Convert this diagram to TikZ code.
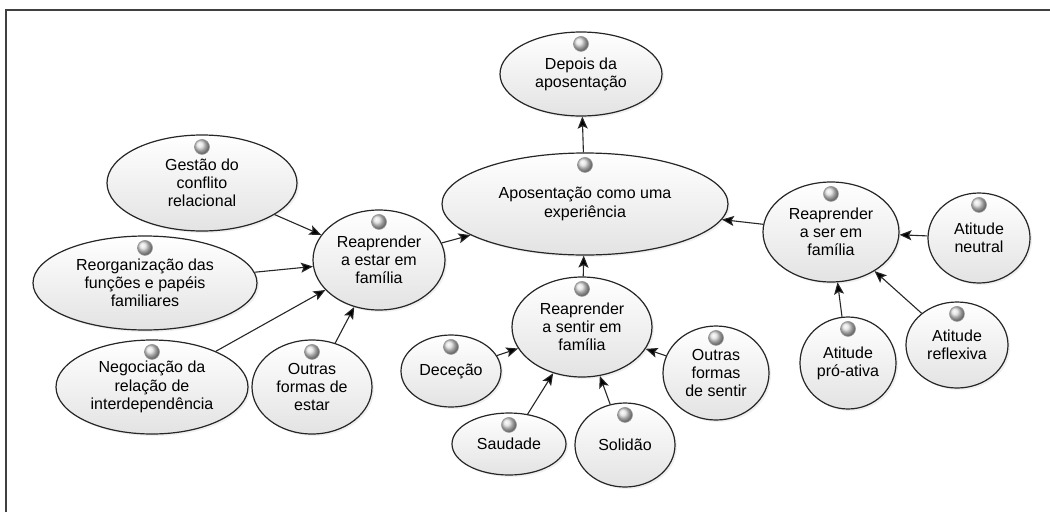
\documentclass[tikz,border=0pt]{standalone}
\usepackage{fontspec}
\setmainfont{Liberation Sans}
\usepackage{tikz}
\usetikzlibrary{arrows.meta,shapes,shadows,positioning}

\begin{document}
\begin{tikzpicture}[x=1pt,y=-1pt,>={Stealth[length=12pt,width=10pt,inset=2.5pt]},
    goal/.style={ellipse,draw=black!85,line width=1.2pt,inner sep=0pt,align=center,
        top color=white,bottom color=gray!22,
        drop shadow={opacity=0.12,shadow xshift=2pt,shadow yshift=-2pt},
        font=\fontsize{16}{18.2}\selectfont},
    link/.style={->,line width=1.1pt,draw=black!85}]
        \useasboundingbox (0,0) rectangle (1050,512);
        \draw[line width=2pt,black!75] (6,512) -- (6,10) -- (1050,10);
        % centre
        \node[goal,minimum width=162,minimum height=84] (depois) at (581,74) {Depois da\\aposentação};
        \node[goal,minimum width=286,minimum height=102] (aposent) at (585,204) {Aposentação como uma\\experiência};
        % estar
        \node[goal,minimum width=132,minimum height=100] (estar) at (379,260) {Reaprender\\a estar em\\família};
        \node[goal,minimum width=190,minimum height=96] (gestao) at (202,183) {Gestão do\\conflito\\relacional};
        \node[goal,minimum width=224,minimum height=94] (reorg) at (145,283) {Reorganização das\\funções e papéis\\familiares};
        \node[goal,minimum width=192,minimum height=94] (negoc) at (152,387) {Negociação da\\relação de\\interdependência};
        \node[goal,minimum width=120,minimum height=94] (outrasestar) at (312,387) {Outras\\formas de\\estar};
        % sentir
        \node[goal,minimum width=140,minimum height=100] (sentir) at (582,327) {Reaprender\\a sentir em\\família};
        \node[goal,minimum width=100,minimum height=72] (dececao) at (451,371) {Deceção};
        \node[goal,minimum width=114,minimum height=62] (saudade) at (509,444) {Saudade};
        \node[goal,minimum width=100,minimum height=84] (solidao) at (625,445) {Solidão};
        \node[goal,minimum width=106,minimum height=94] (outrassentir) at (716,373) {Outras\\formas\\de sentir};
        % ser
        \node[goal,minimum width=136,minimum height=100] (ser) at (831,232) {Reaprender\\a ser em\\família};
        \node[goal,minimum width=102,minimum height=90] (neutral) at (979,238) {Atitude\\neutral};
        \node[goal,minimum width=96,minimum height=92] (proativa) at (848,363) {Atitude\\pró-ativa};
        \node[goal,minimum width=102,minimum height=86] (reflexiva) at (957,345) {Atitude\\reflexiva};
        % icons
        \foreach \n in {depois,aposent,estar,gestao,reorg,negoc,outrasestar,sentir,dececao,
            saudade,solidao,outrassentir,ser,neutral,proativa,reflexiva}
            \shadedraw[ball color=gray!25,draw=gray!80,line width=0.6pt] ([yshift=-12.5pt]\n.north) circle (7.5pt);
        \path[link]
        (aposent) edge (depois)
        (estar) edge (aposent)
        (sentir) edge (aposent)
        (ser) edge (aposent)
        (gestao) edge (estar)
        (reorg) edge (estar)
        (negoc) edge (estar)
        (outrasestar) edge (estar)
        (dececao) edge (sentir)
        (saudade) edge (sentir)
        (solidao) edge (sentir)
        (outrassentir) edge (sentir)
        (neutral) edge (ser)
        (proativa) edge (ser)
        (reflexiva) edge (ser);
\end{tikzpicture}
\end{document}
